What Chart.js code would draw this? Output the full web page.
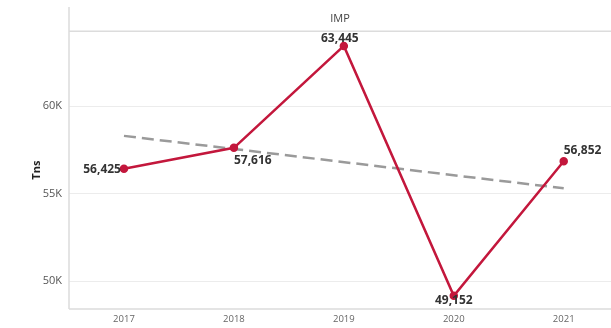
<!DOCTYPE html>
<html>
<head>
<meta charset="utf-8">
<script src="https://cdn.jsdelivr.net/npm/chart.js@4/dist/chart.umd.min.js"></script>
<style>
  html, body { margin: 0; padding: 0; background: #fff; }
  #wrap { width: 611px; height: 328px; position: relative; }
</style>
</head>
<body>
<div id="wrap"><canvas id="chart"></canvas></div>
<script>
const years = [2017, 2018, 2019, 2020, 2021];
const imports = [56425, 57616, 63445, 49152, 56852];
const trendYears = [2017, 2021];
const trendValues = [58300, 55300];
const yTicks = [50000, 55000, 60000];

// where each value label sits relative to its point: [dx, dy, align]
const labelPlace = [[-3, 1, "right"], [0, 13, "left"], [-4, -7, "center"], [0, 5, "center"], [0, -11, "left"]];

const frame = {
  id: "frame",
  beforeDatasetsDraw(chart) {
    const { ctx, chartArea: a } = chart;
    ctx.save();
    ctx.strokeStyle = "#dcdcdc";
    ctx.lineWidth = 1.5;
    ctx.beginPath();
    ctx.moveTo(a.left, 7);
    ctx.lineTo(a.left, a.bottom);
    ctx.moveTo(a.left, a.top);
    ctx.lineTo(a.right, a.top);
    ctx.moveTo(a.left, a.bottom);
    ctx.lineTo(a.right, a.bottom);
    ctx.stroke();
    ctx.restore();
  }
};

const valueLabels = {
  id: "valueLabels",
  afterDatasetsDraw(chart) {
    const { ctx } = chart;
    const pts = chart.getDatasetMeta(0).data;
    ctx.save();
    ctx.font = "bold 12px 'Open Sans', sans-serif";
    ctx.fillStyle = "#333";
    ctx.textBaseline = "middle";
    pts.forEach((p, i) => {
      const [dx, dy, al] = labelPlace[i];
      ctx.textAlign = al;
      ctx.fillText(imports[i].toLocaleString("en-US"), p.x + dx, p.y + dy);
    });
    ctx.restore();
  }
};

new Chart(document.getElementById("chart"), {
  type: "line",
  data: {
    datasets: [
      {
        data: years.map((y, i) => ({ x: y, y: imports[i] })),
        borderColor: "#c3173c",
        backgroundColor: "#c3173c",
        borderWidth: 2.5,
        pointRadius: 3,
        tension: 0,
        order: 0
      },
      {
        data: trendYears.map((y, i) => ({ x: y, y: trendValues[i] })),
        borderColor: "#9a9a9a",
        borderWidth: 2.5,
        borderDash: [12, 6],
        pointRadius: 0,
        order: 1
      }
    ]
  },
  options: {
    responsive: true,
    maintainAspectRatio: false,
    animation: false,
    layout: { padding: 0, autoPadding: false },
    plugins: {
      legend: { display: false },
      tooltip: { enabled: false },
      title: {
        display: true,
        text: "IMP",
        fullSize: false,
        color: "#444",
        font: { family: "'Open Sans', sans-serif", size: 11, weight: "normal" },
        padding: { top: 12, bottom: 6 }
      }
    },
    scales: {
      x: {
        type: "linear",
        min: 2016.5,
        max: 2021.43,
        afterBuildTicks: s => { s.ticks = years.map(v => ({ value: v })); },
        afterFit: s => { s.height = 19; s.paddingLeft = 0; s.paddingRight = 0; },
        grid: { display: false, drawTicks: false },
        border: { display: false },
        ticks: {
          padding: 5,
          color: "#666",
          font: { family: "'Open Sans', sans-serif", size: 9.5 },
          callback: v => String(v)
        }
      },
      y: {
        min: 48400,
        max: 64286,
        afterBuildTicks: s => { s.ticks = yTicks.map(v => ({ value: v })); },
        afterFit: s => { s.width = 69; s.paddingTop = 0; s.paddingBottom = 0; },
        grid: { color: "#ececec", drawTicks: false },
        border: { display: false },
        ticks: {
          padding: 7,
          color: "#555",
          font: { family: "'Open Sans', sans-serif", size: 11 },
          callback: v => (v / 1000) + "K"
        },
        title: {
          display: true,
          text: "Tns",
          color: "#222",
          font: { family: "'Open Sans', sans-serif", size: 11, weight: "bold" },
          padding: { top: 30, bottom: 0 }
        }
      }
    }
  },
  plugins: [frame, valueLabels]
});
</script>
</body>
</html>
